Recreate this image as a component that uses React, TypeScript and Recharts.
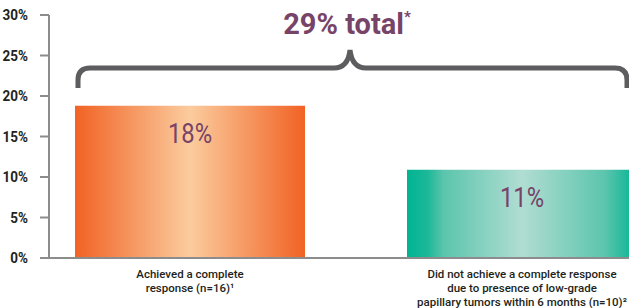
import { BarChart, Bar, XAxis, YAxis, Cell, LabelList } from "recharts";

// values (bar heights in %)
const categories = [
  ["Achieved a complete", "response (n=16)¹"],
  ["Did not achieve a complete response", "due to presence of low-grade", "papillary tumors within 6 months (n=10)²"],
];
const values = [18.8, 10.9];
const valueLabels = ["18%", "11%"];
const gradientIds = ["gradOrange", "gradTeal"];
const yTicks = [0, 5, 10, 15, 20, 25, 30];

const data = values.map((v, i) => ({ pos: i, value: v, label: valueLabels[i] }));

const W = 629;
const H = 308;
const AXIS = "#8c8c8c";
const PURPLE = "#774468";
const FONT = "Roboto, sans-serif";

function XTick({ x, y, payload }: any) {
  const lines = categories[payload.value] || [];
  return (
    <text x={x} y={y + 12} textAnchor="middle" fill="#231f20" fontSize={11.5} fontWeight={500} fontFamily={FONT}>
      {lines.map((l, i) => (
        <tspan key={i} x={x} dy={i === 0 ? 0 : 14}>
          {l}
        </tspan>
      ))}
    </text>
  );
}

function YTick({ x, y, payload }: any) {
  return (
    <text
      transform={`translate(${x},${y + 5}) scale(0.9,1)`}
      textAnchor="end"
      fill="#231f20"
      fontSize={15}
      fontWeight={700}
      fontFamily={FONT}
    >
      {payload.value}%
    </text>
  );
}

function BarValue({ x, y, width, value }: any) {
  return (
    <text
      transform={`translate(${x + width / 2},${y + 37}) scale(0.85,1)`}
      textAnchor="middle"
      fill={PURPLE}
      fontSize={28}
      fontFamily={FONT}
    >
      {value}
    </text>
  );
}

function Brace() {
  // brace spanning both bars, peak above the gap
  const d =
    "M78,88 L78,80 Q78,68 90,68 L334,68 Q348,68 350,50 Q352,68 366,68 L615,68 Q627,68 627,80 L627,88";
  return (
    <svg width={W} height={H} style={{ position: "absolute", left: 0, top: 0, pointerEvents: "none" }}>
      <path d={d} fill="none" stroke="#5d5d5f" strokeWidth={5} strokeLinecap="butt" />
      <text x={347} y={34} textAnchor="middle" fill={PURPLE} fontSize={29} fontWeight={700} fontFamily={FONT}>
        29% total<tspan fontSize={15} dy={-12}>*</tspan>
      </text>
    </svg>
  );
}

export default function App() {
  return (
    <div style={{ position: "relative", width: W, height: H, background: "#fff" }}>
      <style>{"body{margin:0}"}</style>
      <BarChart width={W} height={H} data={data} margin={{ top: 15, right: 0, bottom: 0, left: 0 }}>
        <defs>
          <linearGradient id="gradOrange" x1="0" y1="0" x2="1" y2="0">
            <stop offset="0%" stopColor="#f16224" />
            <stop offset="50%" stopColor="#fbcc9e" />
            <stop offset="100%" stopColor="#f16224" />
          </linearGradient>
          <linearGradient id="gradTeal" x1="0" y1="0" x2="1" y2="0">
            <stop offset="0%" stopColor="#00b493" />
            <stop offset="9%" stopColor="#1cb898" />
            <stop offset="16%" stopColor="#5cc5ad" />
            <stop offset="50%" stopColor="#b1ddd2" />
            <stop offset="86%" stopColor="#5cc5ad" />
            <stop offset="100%" stopColor="#00b493" />
          </linearGradient>
        </defs>
        <XAxis
          type="number"
          dataKey="pos"
          domain={[-0.4247, 1.3223]}
          allowDataOverflow
          ticks={[0, 1]}
          tick={<XTick />}
          tickLine={false}
          axisLine={{ stroke: AXIS, strokeWidth: 2 }}
          height={50}
          interval={0}
        />
        <YAxis
          type="number"
          domain={[0, 30]}
          ticks={yTicks}
          width={49}
          tickSize={9}
          tickMargin={12}
          axisLine={{ stroke: AXIS, strokeWidth: 2 }}
          tickLine={{ stroke: AXIS, strokeWidth: 2 }}
          tick={<YTick />}
        />
        <Bar dataKey="value" barSize={230} isAnimationActive={false}>
          {data.map((d, i) => (
            <Cell key={d.pos} fill={`url(#${gradientIds[i]})`} />
          ))}
          <LabelList dataKey="label" content={<BarValue />} />
        </Bar>
      </BarChart>
      <Brace />
    </div>
  );
}
